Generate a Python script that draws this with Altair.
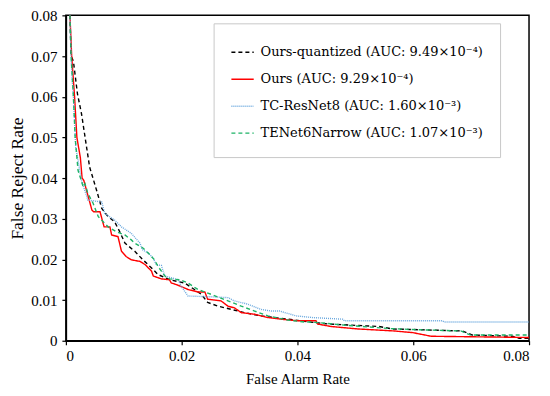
import altair as alt
import pandas as pd

series_names = [
    "Ours-quantized (AUC: 9.49×10⁻⁴)",
    "Ours (AUC: 9.29×10⁻⁴)",
    "TC-ResNet8 (AUC: 1.60×10⁻³)",
    "TENet6Narrow (AUC: 1.07×10⁻³)",
]

quant_far = [0.0007, 0.0009, 0.0013, 0.0020, 0.0027, 0.0034, 0.0041, 0.0053, 0.0062, 0.0073, 0.0084, 0.0093,
             0.0102, 0.0119, 0.0133, 0.0148, 0.0159, 0.0171, 0.0179, 0.0205, 0.0222, 0.0234, 0.0245, 0.0263,
             0.0286, 0.0309, 0.0337, 0.0372, 0.0406, 0.0421, 0.0455, 0.0541, 0.0564, 0.0685, 0.0702, 0.0771,
             0.0783, 0.0800]
quant_frr = [0.0800, 0.0700, 0.0687, 0.0607, 0.0558, 0.0492, 0.0427, 0.0370, 0.0325, 0.0305, 0.0293, 0.0268,
             0.0240, 0.0220, 0.0199, 0.0179, 0.0163, 0.0155, 0.0150, 0.0142, 0.0126, 0.0114, 0.0094, 0.0085,
             0.0077, 0.0069, 0.0061, 0.0055, 0.0049, 0.0046, 0.0041, 0.0035, 0.0029, 0.0024, 0.0014, 0.0011,
             0.0006, 0.0006]

ours_far = [0.0007, 0.0010, 0.0015, 0.0019, 0.0025, 0.0028, 0.0031, 0.0045, 0.0048, 0.0059, 0.0066, 0.0076,
            0.0079, 0.0090, 0.0096, 0.0104, 0.0113, 0.0128, 0.0137, 0.0148, 0.0151, 0.0165, 0.0179, 0.0182,
            0.0191, 0.0211, 0.0228, 0.0240, 0.0245, 0.0268, 0.0280, 0.0291, 0.0303, 0.0326, 0.0349, 0.0372,
            0.0400, 0.0432, 0.0435, 0.0458, 0.0504, 0.0567, 0.0599, 0.0631, 0.0800]
ours_frr = [0.0800, 0.0700, 0.0600, 0.0500, 0.0450, 0.0400, 0.0394, 0.0321, 0.0317, 0.0317, 0.0280, 0.0280,
            0.0260, 0.0256, 0.0220, 0.0207, 0.0199, 0.0195, 0.0187, 0.0171, 0.0159, 0.0152, 0.0150, 0.0142,
            0.0138, 0.0126, 0.0120, 0.0120, 0.0102, 0.0098, 0.0085, 0.0081, 0.0069, 0.0065, 0.0057, 0.0053,
            0.0049, 0.0049, 0.0041, 0.0035, 0.0029, 0.0024, 0.0020, 0.0011, 0.0008]

tc_far = [0.0007, 0.0009, 0.0011, 0.0013, 0.0017, 0.0021, 0.0027, 0.0038, 0.0062, 0.0067, 0.0084, 0.0096,
          0.0113, 0.0128, 0.0132, 0.0142, 0.0151, 0.0156, 0.0165, 0.0168, 0.0171, 0.0194, 0.0199, 0.0205,
          0.0211, 0.0251, 0.0280, 0.0291, 0.0314, 0.0337, 0.0355, 0.0369, 0.0398, 0.0426, 0.0478, 0.0481,
          0.0651, 0.0653, 0.0800]
tc_frr = [0.0800, 0.0700, 0.0638, 0.0600, 0.0476, 0.0444, 0.0394, 0.0346, 0.0341, 0.0313, 0.0297, 0.0280,
          0.0264, 0.0240, 0.0224, 0.0216, 0.0203, 0.0187, 0.0185, 0.0171, 0.0159, 0.0150, 0.0134, 0.0122,
          0.0110, 0.0108, 0.0106, 0.0098, 0.0090, 0.0077, 0.0073, 0.0073, 0.0061, 0.0057, 0.0053, 0.0049,
          0.0049, 0.0046, 0.0046]

tenet_far = [0.0007, 0.0009, 0.0013, 0.0016, 0.0021, 0.0030, 0.0033, 0.0038, 0.0047, 0.0056, 0.0064, 0.0073,
             0.0087, 0.0102, 0.0113, 0.0119, 0.0133, 0.0142, 0.0153, 0.0159, 0.0165, 0.0171, 0.0179, 0.0197,
             0.0211, 0.0228, 0.0251, 0.0280, 0.0303, 0.0326, 0.0349, 0.0383, 0.0412, 0.0426, 0.0484, 0.0559,
             0.0610, 0.0682, 0.0699, 0.0800]
tenet_frr = [0.0800, 0.0700, 0.0600, 0.0500, 0.0419, 0.0378, 0.0386, 0.0362, 0.0338, 0.0305, 0.0293, 0.0280,
             0.0268, 0.0260, 0.0248, 0.0240, 0.0228, 0.0216, 0.0199, 0.0183, 0.0171, 0.0159, 0.0152, 0.0150,
             0.0142, 0.0126, 0.0114, 0.0098, 0.0085, 0.0073, 0.0061, 0.0051, 0.0046, 0.0046, 0.0038, 0.0030,
             0.0027, 0.0024, 0.0014, 0.0014]

x_ticks = [0, 0.02, 0.04, 0.06, 0.08]
y_ticks = [0, 0.01, 0.02, 0.03, 0.04, 0.05, 0.06, 0.07, 0.08]

rows = []
for name, fars, frrs in zip(series_names,
                            [quant_far, ours_far, tc_far, tenet_far],
                            [quant_frr, ours_frr, tc_frr, tenet_frr]):
    for i, (a, b) in enumerate(zip(fars, frrs)):
        rows.append({"series": name, "far": a, "frr": b, "idx": i})
df = pd.DataFrame(rows)

colors = ["#000000", "#FF0000", "#6AA8DE", "#1DB366"]
dashes = [[4, 3], [1, 0], [1, 1], [4, 3]]
widths = [1.4, 1.4, 1.1, 1.5]

font = "Liberation Serif"

chart = alt.Chart(df).mark_line(clip=True).encode(
    x=alt.X("far:Q", title="False Alarm Rate",
            scale=alt.Scale(domain=[0, 0.08], nice=False),
            axis=alt.Axis(values=x_ticks, format="~g", grid=False)),
    y=alt.Y("frr:Q", title="False Reject Rate",
            scale=alt.Scale(domain=[0, 0.08], nice=False),
            axis=alt.Axis(values=y_ticks, format="~g", grid=False,
                          titleFontSize=17.5, titlePadding=4, labelPadding=5)),
    color=alt.Color("series:N", scale=alt.Scale(domain=series_names, range=colors),
                    legend=alt.Legend(title=None, orient="none", legendX=148, legendY=8)),
    strokeDash=alt.StrokeDash("series:N", scale=alt.Scale(domain=series_names, range=dashes)),
    strokeWidth=alt.StrokeWidth("series:N", scale=alt.Scale(domain=series_names, range=widths), legend=None),
    order="idx:Q",
    detail="series:N",
).properties(width=464, height=326, padding={"left": 0, "top": 0, "right": 12, "bottom": 8}).configure_view(
    stroke="#000000", strokeWidth=1.5
).configure_axis(
    domainColor="#000000", domainWidth=1.5, tickColor="#000000", tickSize=4, tickWidth=1.2,
    labelFont=font, labelFontSize=15, labelColor="#000000",
    titleFont=font, titleFontSize=15, titleColor="#000000", titleFontWeight="normal",
    labelPadding=4,
).configure_axisX(titlePadding=8).configure_legend(
    labelFont="DejaVu Serif", labelFontSize=13, labelColor="#000000", labelLimit=400,
    symbolType="stroke", symbolSize=500, symbolStrokeWidth=1.5,
    rowPadding=8, padding=17, fillColor="#FFFFFF", strokeColor="#C8C8C8",
    labelOffset=6,
)

chart.save("out.html", embed_options={"renderer": "svg", "actions": False})
